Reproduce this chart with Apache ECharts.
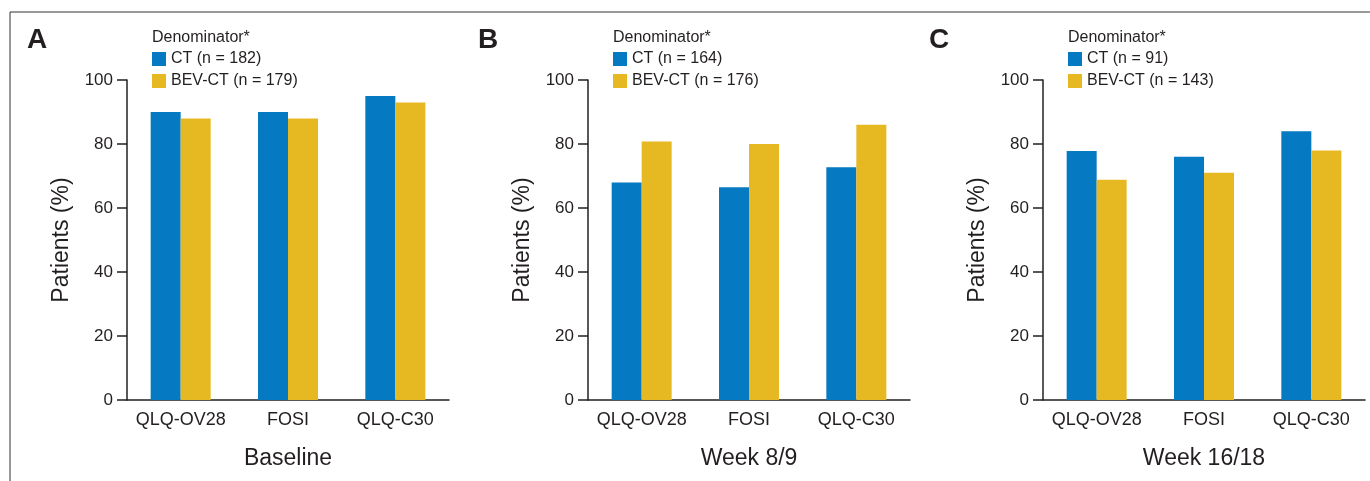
<!DOCTYPE html>
<html>
<head>
<meta charset="utf-8">
<script src="https://cdn.jsdelivr.net/npm/echarts@6/dist/echarts.min.js"></script>
<style>
html,body{margin:0;padding:0;background:#fff;}
#chart{width:1370px;height:481px;}
</style>
</head>
<body>
<div id="chart"></div>
<script>
const categories = ['QLQ-OV28', 'FOSI', 'QLQ-C30'];
const yTicks = [0, 20, 40, 60, 80, 100];

const panelLetters = ['A', 'B', 'C'];
const panelTitles = ['Baseline', 'Week 8/9', 'Week 16/18'];
const ctNames = ['CT (n = 182)', 'CT (n = 164)', 'CT (n = 91)'];
const bevNames = ['BEV-CT (n = 179)', 'BEV-CT (n = 176)', 'BEV-CT (n = 143)'];

const ctBaseline = [90, 90, 95];
const bevBaseline = [88, 88, 93];
const ctWeek8 = [68, 66.5, 72.7];
const bevWeek8 = [80.8, 80, 86];
const ctWeek16 = [77.8, 76, 84];
const bevWeek16 = [68.8, 71, 78];

const ctValues = [ctBaseline, ctWeek8, ctWeek16];
const bevValues = [bevBaseline, bevWeek8, bevWeek16];

const BLUE = '#0579c1';
const YELLOW = '#e6b822';
const TEXT = '#231f20';
const FONT = 'Liberation Sans, Arial, sans-serif';

const gridLefts = [127, 588, 1043];
const gridWidth = 322;

const grids = [], xAxes = [], yAxes = [], series = [], legends = [], titles = [];
gridLefts.forEach((gl, i) => {
  grids.push({left: gl, top: 80, width: gridWidth, height: 320});
  xAxes.push({
    type: 'category', gridIndex: i, data: categories,
    name: panelTitles[i], nameLocation: 'middle', nameGap: 47,
    nameTextStyle: {fontSize: 23, color: TEXT, fontFamily: FONT},
    axisLine: {lineStyle: {color: TEXT, width: 1.5}},
    axisTick: {alignWithLabel: true, length: 6, lineStyle: {color: TEXT, width: 1.5}},
    axisLabel: {fontSize: 18, color: TEXT, fontFamily: FONT, margin: 11, interval: 0}
  });
  yAxes.push({
    type: 'value', gridIndex: i, min: 0, max: 100, interval: 20,
    name: 'Patients (%)', nameLocation: 'middle', nameGap: 54, nameRotate: 90,
    nameTextStyle: {fontSize: 23, color: TEXT, fontFamily: FONT},
    axisLine: {show: true, lineStyle: {color: TEXT, width: 1.5}},
    axisTick: {show: true, length: 10, lineStyle: {color: TEXT, width: 1.5}},
    axisLabel: {fontSize: 17, color: TEXT, fontFamily: FONT, margin: 14,
      formatter: v => yTicks.includes(v) ? String(v) : ''},
    splitLine: {show: false}
  });
  series.push({
    type: 'bar', name: ctNames[i], xAxisIndex: i, yAxisIndex: i,
    data: ctValues[i], barWidth: 30, barGap: '0%',
    itemStyle: {color: BLUE}, silent: true
  });
  series.push({
    type: 'bar', name: bevNames[i], xAxisIndex: i, yAxisIndex: i,
    data: bevValues[i], barWidth: 30, barGap: '0%',
    itemStyle: {color: YELLOW}, silent: true
  });
  legends.push({
    data: [ctNames[i], bevNames[i]], orient: 'vertical',
    left: gl + 25, top: 51, padding: 0, itemGap: 6,
    itemWidth: 14, itemHeight: 14, icon: 'rect', selectedMode: false,
    textStyle: {fontSize: 16, color: TEXT, fontFamily: FONT}
  });
  titles.push({
    text: 'Denominator*', left: gl + 25, top: 30, padding: 0,
    textStyle: {fontSize: 16, fontWeight: 'normal', color: TEXT, fontFamily: FONT}
  });
});

const letterX = [27, 478, 929];
letterX.forEach((x, i) => {
  titles.push({
    text: panelLetters[i], left: x, top: 26, padding: 0,
    textStyle: {fontSize: 28, fontWeight: 'bold', color: TEXT, fontFamily: FONT}
  });
});

const chart = echarts.init(document.getElementById('chart'), null, {renderer: 'canvas'});
chart.setOption({
  animation: false,
  backgroundColor: '#fff',
  title: titles,
  legend: legends,
  grid: grids,
  xAxis: xAxes,
  yAxis: yAxes,
  series: series,
  graphic: [
    {type: 'line', shape: {x1: 10, y1: 12, x2: 1370, y2: 12}, style: {stroke: '#333', lineWidth: 1}},
    {type: 'line', shape: {x1: 10, y1: 12, x2: 10, y2: 481}, style: {stroke: '#333', lineWidth: 1}}
  ]
});
</script>
</body>
</html>
